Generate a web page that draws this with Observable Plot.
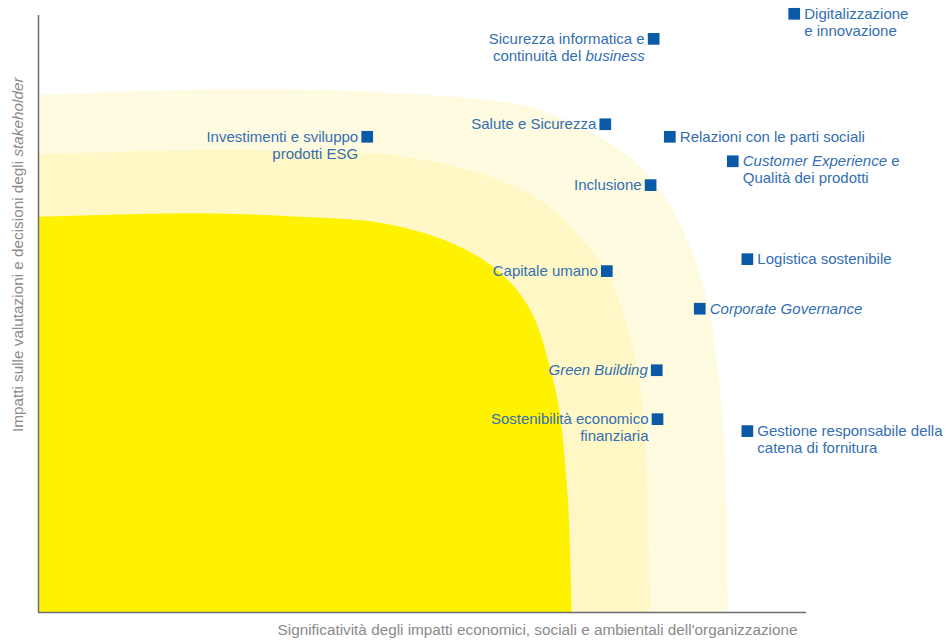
<!DOCTYPE html>
<html>
<head>
<meta charset="utf-8">
<script src="https://cdn.jsdelivr.net/npm/d3@7"></script>
<script src="https://cdn.jsdelivr.net/npm/@observablehq/plot@0.6"></script>
<style>
  html, body { margin: 0; padding: 0; background: #ffffff; }
  #chart svg { display: block; }
</style>
</head>
<body>
<div id="chart"></div>
<script>
// ---- Material topics (italic parts marked with *...*) ----
const topics = [
  "Digitalizzazione\ne innovazione",
  "Sicurezza informatica e\ncontinuità del *business*",
  "Investimenti e sviluppo\nprodotti ESG",
  "Salute e Sicurezza",
  "Relazioni con le parti sociali",
  "*Customer Experience* e\nQualità dei prodotti",
  "Inclusione",
  "Capitale umano",
  "Logistica sostenibile",
  "*Corporate Governance*",
  "*Green Building*",
  "Sostenibilità economico\nfinanziaria",
  "Gestione responsabile della\ncatena di fornitura"
];
// significance of impacts (x) and stakeholder relevance (y), 0–100
const impactX = [98.4, 80.1, 42.8, 73.8, 82.2, 90.4, 79.7, 74.0, 92.3, 86.1, 80.5, 80.6, 92.3];
const stakeholderY = [100.2, 96.0, 79.6, 81.7, 79.6, 75.5, 71.5, 57.1, 59.1, 50.8, 40.5, 32.3, 30.3];
const labelSide = ["right", "left", "left", "left", "right", "right", "left", "left", "right", "right", "left", "left", "right"];

// ---- Materiality zones (upper boundary of each band) ----
const outerZoneX = [0, 14.6, 25.4, 38.0, 47.1, 57.6, 64.1, 71.5, 77.5, 81.9, 84.9, 87.1, 88.5, 89.5, 89.8];
const outerZoneY = [86.6, 87.3, 87.6, 87.4, 86.9, 85.9, 84.6, 80.7, 75.7, 69.0, 61.1, 52.3, 41.0, 24.3, 0];
const middleZoneX = [0, 21.1, 34.1, 47.1, 57.6, 65.4, 70.6, 74.1, 76.2, 78.0, 79.0, 79.4, 79.7];
const middleZoneY = [76.7, 77.4, 77.2, 76.4, 73.5, 69.0, 62.8, 56.8, 50.1, 41.0, 30.0, 18.8, 0];
const innerZoneX = [0, 21.1, 34.1, 44.5, 52.3, 57.6, 60.2, 62.4, 64.1, 65.4, 66.4, 67.3, 68.0, 69.0, 69.5];
const innerZoneY = [66.2, 66.8, 66.2, 65.2, 62.6, 59.3, 56.8, 53.9, 50.6, 46.7, 42.2, 37.7, 32.7, 18.8, 0];

const xLabel = "Significatività degli impatti economici, sociali e ambientali dell'organizzazione";
const yLabel = "Impatti sulle valutazioni e decisioni degli *stakeholder*";

// ---- build tables ----
const points = topics.map((t, i) => ({ topic: t, x: impactX[i], y: stakeholderY[i], side: labelSide[i] }));
const zone = (xs, ys) => xs.map((x, i) => ({ x, y: ys[i] }));
const outerZone = zone(outerZoneX, outerZoneY);
const middleZone = zone(middleZoneX, middleZoneY);
const innerZone = zone(innerZoneX, innerZoneY);

const labelColor = "#336fb2";
const squareColor = "#0b5aa7";
const axisColor = "#6c6c72";
const font = "'Liberation Sans', Arial, Helvetica, sans-serif";

const chart = Plot.plot({
  width: 949,
  height: 644,
  marginLeft: 38,
  marginRight: 143,
  marginTop: 15,
  marginBottom: 32,
  x: { domain: [0, 100], axis: null },
  y: { domain: [0, 100], axis: null },
  style: { fontFamily: font, background: "#ffffff", overflow: "visible" },
  marks: [
    Plot.areaY(outerZone, { x: "x", y: "y", fill: "#fffbe0", curve: "catmull-rom" }),
    Plot.areaY(middleZone, { x: "x", y: "y", fill: "#fff8c6", curve: "catmull-rom" }),
    Plot.areaY(innerZone, { x: "x", y: "y", fill: "#fff200", curve: "catmull-rom" }),
    Plot.ruleX([0], { y1: 0, y2: 100, stroke: axisColor, strokeWidth: 1.5 }),
    Plot.ruleY([0], { x1: 0, x2: 100, stroke: axisColor, strokeWidth: 1.5 }),
    Plot.dot(points, { x: "x", y: "y", symbol: "square", r: 6.6, fill: squareColor, stroke: "none", dy: -0.5 }),
    Plot.text(points, {
      filter: d => d.side === "left", x: "x", y: "y", text: "topic",
      textAnchor: "end", lineAnchor: "top", dx: -9, dy: -7.5,
      fontSize: 15, lineHeight: 1.13, fill: labelColor
    }),
    Plot.text(points, {
      filter: d => d.side === "right", x: "x", y: "y", text: "topic",
      textAnchor: "start", lineAnchor: "top", dx: 10, dy: -7.5,
      fontSize: 15, lineHeight: 1.13, fill: labelColor
    }),
    Plot.text([xLabel], {
      frameAnchor: "bottom-right", text: d => d, textAnchor: "end",
      lineAnchor: "middle", dx: -9, dy: 18, fontSize: 15.3, fill: "#8a8a8a"
    }),
    Plot.text([yLabel], {
      frameAnchor: "top-left", text: d => d, rotate: -90, textAnchor: "end",
      lineAnchor: "middle", dx: -20, dy: 62, fontSize: 15.3, fill: "#8a8a8a"
    })
  ]
});

// Render *...* segments as italic tspans
chart.querySelectorAll("text, tspan").forEach(el => {
  Array.from(el.childNodes).forEach(node => {
    if (node.nodeType === 3 && node.nodeValue.includes("*")) {
      const parts = node.nodeValue.split("*");
      const frag = document.createDocumentFragment();
      parts.forEach((p, i) => {
        if (!p) return;
        const ts = document.createElementNS("http://www.w3.org/2000/svg", "tspan");
        ts.textContent = p;
        ts.setAttribute("style", "white-space: pre");
        if (i % 2 === 1) ts.setAttribute("font-style", "italic");
        frag.appendChild(ts);
      });
      el.replaceChild(frag, node);
    }
  });
});

document.getElementById("chart").appendChild(chart);
</script>
</body>
</html>
